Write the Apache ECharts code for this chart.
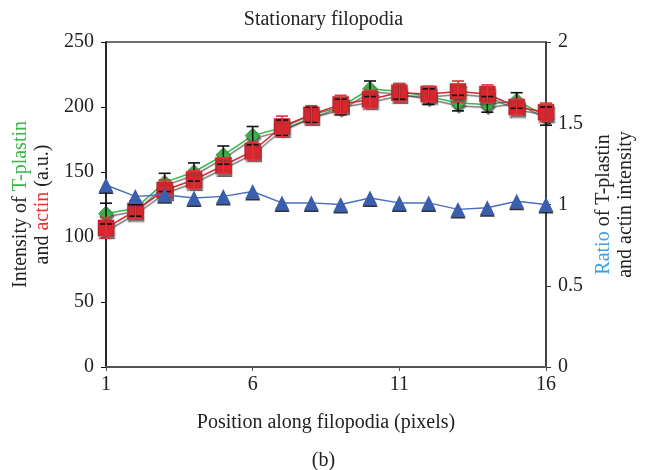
<!DOCTYPE html>
<html>
<head>
<meta charset="utf-8">
<script src="https://cdn.jsdelivr.net/npm/echarts@6/dist/echarts.min.js"></script>
<style>
  html, body { margin: 0; padding: 0; background: #fff; }
  #chart { width: 647px; height: 470px; }
</style>
</head>
<body>
<div id="chart"></div>
<script>
// position along filopodia
const positions = ['1','2','3','4','5','6','7','8','9','10','11','12','13','14','15','16'];
// T-plastin intensity (green) and its error
const tplastin = [118, 122, 142, 150, 163, 178, 184, 194, 200, 214, 212, 208, 203, 202, 205, 193];
const tplastinErr = [8, 6, 7, 7, 7, 7, 6, 6, 6, 6, 6, 6, 6, 6, 6, 7];
// actin intensity (red) and its error
const actin = [107, 120, 136, 144, 155, 166, 185, 194, 202, 206, 211, 210, 212, 210, 200, 196];
const actinErr = [8, 6, 8, 7, 6, 7, 8, 7, 7, 7, 7, 6, 8, 7, 6, 7];
// ratio T-plastin / actin (blue, right axis)
const ratio = [1.12, 1.05, 1.06, 1.04, 1.05, 1.08, 1.01, 1.01, 1.0, 1.04, 1.01, 1.01, 0.97, 0.98, 1.02, 1.0];

const serif = 'Liberation Serif';
const fs = 20;
const green = '#3cb54a';
const red = '#d7262e';
const blue = '#3b5fad';

const shadow = {
  shadowColor: 'rgba(70,70,70,0.75)',
  shadowBlur: 1,
  shadowOffsetX: 1,
  shadowOffsetY: 3
};

const errorBars = (values, errs, color, z) => ({
  type: 'custom',
  z: z,
  data: values.map((v, i) => [i, v - errs[i], v + errs[i]]),
  renderItem: (params, api) => {
    const lo = api.coord([api.value(0), api.value(1)]);
    const hi = api.coord([api.value(0), api.value(2)]);
    const w = 6;
    const style = { stroke: color, lineWidth: 1.6, fill: null };
    return {
      type: 'group',
      children: [
        { type: 'line', shape: { x1: lo[0], y1: lo[1], x2: hi[0], y2: hi[1] }, style },
        { type: 'line', shape: { x1: lo[0] - w, y1: lo[1], x2: lo[0] + w, y2: lo[1] }, style },
        { type: 'line', shape: { x1: hi[0] - w, y1: hi[1], x2: hi[0] + w, y2: hi[1] }, style }
      ]
    };
  }
});

const chart = echarts.init(document.getElementById('chart'));

chart.setOption({
  animation: false,
  textStyle: { fontFamily: serif },
  title: [
    { text: 'Stationary filopodia', left: 'center', top: 5,
      textStyle: { fontFamily: serif, fontSize: fs, fontWeight: 'normal', color: '#222' } },
    { text: '(b)', left: 'center', top: 446,
      textStyle: { fontFamily: serif, fontSize: fs, fontWeight: 'normal', color: '#222' } }
  ],
  grid: {
    left: 106, right: 101, top: 42, bottom: 103,
    show: true, borderColor: '#444', borderWidth: 1.5, backgroundColor: 'transparent'
  },
  xAxis: {
    type: 'category',
    data: positions,
    boundaryGap: false,
    name: 'Position along filopodia (pixels)',
    nameLocation: 'middle',
    nameGap: 46,
    nameTextStyle: { fontFamily: serif, fontSize: fs, color: '#222' },
    axisLine: { lineStyle: { color: '#555', width: 2 } },
    axisTick: { interval: 4, length: 4, lineStyle: { color: '#555' } },
    axisLabel: { interval: 4, fontFamily: serif, fontSize: fs, color: '#222', margin: 8 },
    splitLine: { show: false }
  },
  yAxis: [
    {
      type: 'value', min: 0, max: 250, interval: 50,
      name: '{k|Intensity of }{g|T-plastin}\n{k|and }{r|actin}{k| (a.u.)}',
      nameLocation: 'middle',
      nameRotate: 90,
      nameGap: 52,
      nameTextStyle: {
        rich: {
          k: { fontFamily: serif, fontSize: fs, color: '#222', lineHeight: 22 },
          g: { fontFamily: serif, fontSize: fs, color: green, lineHeight: 22 },
          r: { fontFamily: serif, fontSize: fs, color: '#e8312f', lineHeight: 22 }
        }
      },
      axisLine: { show: true, lineStyle: { color: '#111', width: 1.5 } },
      axisTick: { show: true, length: 5, lineStyle: { color: '#111' } },
      axisLabel: { fontFamily: serif, fontSize: fs, color: '#222', margin: 12 },
      splitLine: { show: false }
    },
    {
      type: 'value', min: 0, max: 2, interval: 0.5,
      position: 'right',
      name: '{b|Ratio}{k| of T-plastin}\n{k|and actin intensity}',
      nameLocation: 'middle',
      nameRotate: 90,
      nameGap: 43,
      nameTextStyle: {
        rich: {
          k: { fontFamily: serif, fontSize: fs, color: '#222', lineHeight: 22 },
          b: { fontFamily: serif, fontSize: fs, color: '#3fa0e0', lineHeight: 22 }
        }
      },
      axisLine: { show: true, lineStyle: { color: '#333', width: 1.5 } },
      axisTick: { show: true, length: 5, lineStyle: { color: '#333' } },
      axisLabel: { fontFamily: serif, fontSize: fs, color: '#222', margin: 12 },
      splitLine: { show: false }
    }
  ],
  series: [
    {
      name: 'T-plastin', type: 'line', data: tplastin, z: 2,
      symbol: 'diamond', symbolSize: 15,
      lineStyle: Object.assign({ color: green, width: 1.5 }, shadow),
      itemStyle: Object.assign({ color: green, borderColor: '#1d5a22', borderWidth: 0.5 }, shadow)
    },
    {
      name: 'actin', type: 'line', data: actin, z: 3,
      symbol: 'rect', symbolSize: 16,
      lineStyle: Object.assign({ color: red, width: 1.5 }, shadow),
      itemStyle: Object.assign({ color: red, borderColor: '#b01c22', borderWidth: 0.5 }, shadow)
    },
    errorBars(tplastin, tplastinErr, '#111', 4),
    errorBars(actin, actinErr, '#e0343a', 4),
    {
      name: 'ratio', type: 'line', data: ratio, yAxisIndex: 1, z: 5,
      symbol: 'triangle', symbolSize: 15,
      lineStyle: { color: '#4a6fc0', width: 1.5 },
      itemStyle: Object.assign({ color: blue }, {
        shadowColor: 'rgba(0,0,0,0.8)', shadowBlur: 0, shadowOffsetX: 0, shadowOffsetY: 1.5
      })
    }
  ]
});
</script>
</body>
</html>
